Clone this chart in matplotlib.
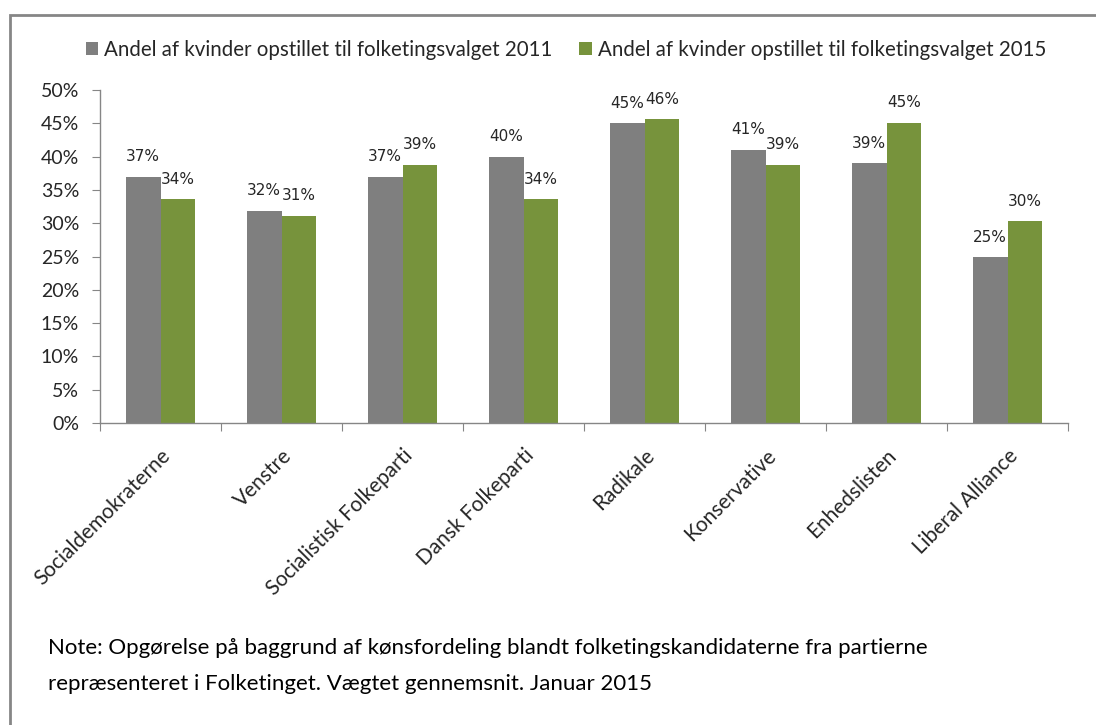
import numpy as np
import matplotlib
matplotlib.use("Agg")
import matplotlib.pyplot as plt
from matplotlib.patches import Rectangle
from matplotlib.ticker import FuncFormatter, MultipleLocator

# Women's share of candidates per party, 2011 vs 2015
parties = ["Socialdemokraterne", "Venstre", "Socialistisk Folkeparti", "Dansk Folkeparti",
           "Radikale", "Konservative", "Enhedslisten", "Liberal Alliance"]
share_2011 = [0.370, 0.319, 0.370, 0.400, 0.450, 0.410, 0.390, 0.249]
share_2015 = [0.336, 0.311, 0.388, 0.336, 0.456, 0.388, 0.451, 0.303]
labels_2011 = ["37%", "32%", "37%", "40%", "45%", "41%", "39%", "25%"]
labels_2015 = ["34%", "31%", "39%", "34%", "46%", "39%", "45%", "30%"]
legend_2011 = "Andel af kvinder opstillet til folketingsvalget 2011"
legend_2015 = "Andel af kvinder opstillet til folketingsvalget 2015"
note_lines = ["Note: Opgørelse på baggrund af kønsfordeling blandt folketingskandidaterne fra partierne",
              "repræsenteret i Folketinget. Vægtet gennemsnit. Januar 2015"]

plt.rcParams["font.family"] = ["Lato", "DejaVu Sans"]
grey = "#7F7F7F"
green = "#77933C"
axis_col = "#868686"
text_col = "#262626"

fig = plt.figure(figsize=(10.96, 7.25), dpi=100)
ax = fig.add_axes([100 / 1096, 1 - 423 / 725, 968 / 1096, 333 / 725])

x = np.arange(len(parties))
w = 0.286
b1 = ax.bar(x - w / 2, share_2011, w, color=grey, label=legend_2011)
b2 = ax.bar(x + w / 2, share_2015, w, color=green, label=legend_2015)

for bars, labs in ((b1, labels_2011), (b2, labels_2015)):
    for bar, lab in zip(bars, labs):
        ax.annotate(lab, (bar.get_x() + bar.get_width() / 2, bar.get_height()),
                    xytext=(0, 14.5), textcoords="offset points", ha="center", va="center",
                    fontsize=11, color=text_col, family=["DejaVu Sans"])

ax.set_xlim(-0.5, len(parties) - 0.5)
ax.set_ylim(0, 0.5)
ax.yaxis.set_major_locator(MultipleLocator(0.05))
ax.yaxis.set_major_formatter(FuncFormatter(lambda v, p: f"{v * 100:.0f}%"))

ax.set_xticks(np.arange(len(parties) + 1) - 0.5, minor=False)
ax.set_xticklabels([])
ax.set_xticks(x, minor=True)
ax.set_xticklabels(parties, minor=True, rotation=45, ha="right", rotation_mode="anchor",
                   fontsize=15, color=text_col)
ax.tick_params(axis="x", which="minor", length=0, pad=16)
ax.tick_params(axis="x", which="major", length=6, color=axis_col, direction="out")
ax.tick_params(axis="y", length=6, color=axis_col, labelsize=14, labelcolor=text_col, pad=9)

for s in ("top", "right"):
    ax.spines[s].set_visible(False)
for s in ("left", "bottom"):
    ax.spines[s].set_color(axis_col)
    ax.spines[s].set_linewidth(1)

fig.legend(handles=[b1, b2], loc="center", bbox_to_anchor=(566 / 1096, 1 - 50 / 725),
           ncol=2, frameon=False, fontsize=14.8, handlelength=0.6, handleheight=0.6,
           handletextpad=0.3, columnspacing=1.3, labelcolor=text_col)

for i, line in enumerate(note_lines):
    fig.text(48 / 1096, 1 - (648 + 36 * i) / 725, line, fontsize=16, color="black", va="center")

fig.add_artist(Rectangle((10 / 1096, -0.2), 2, 1.2 - 15 / 725, transform=fig.transFigure,
                         fill=False, edgecolor=axis_col, linewidth=2))

fig.savefig("out.png", dpi=100)
